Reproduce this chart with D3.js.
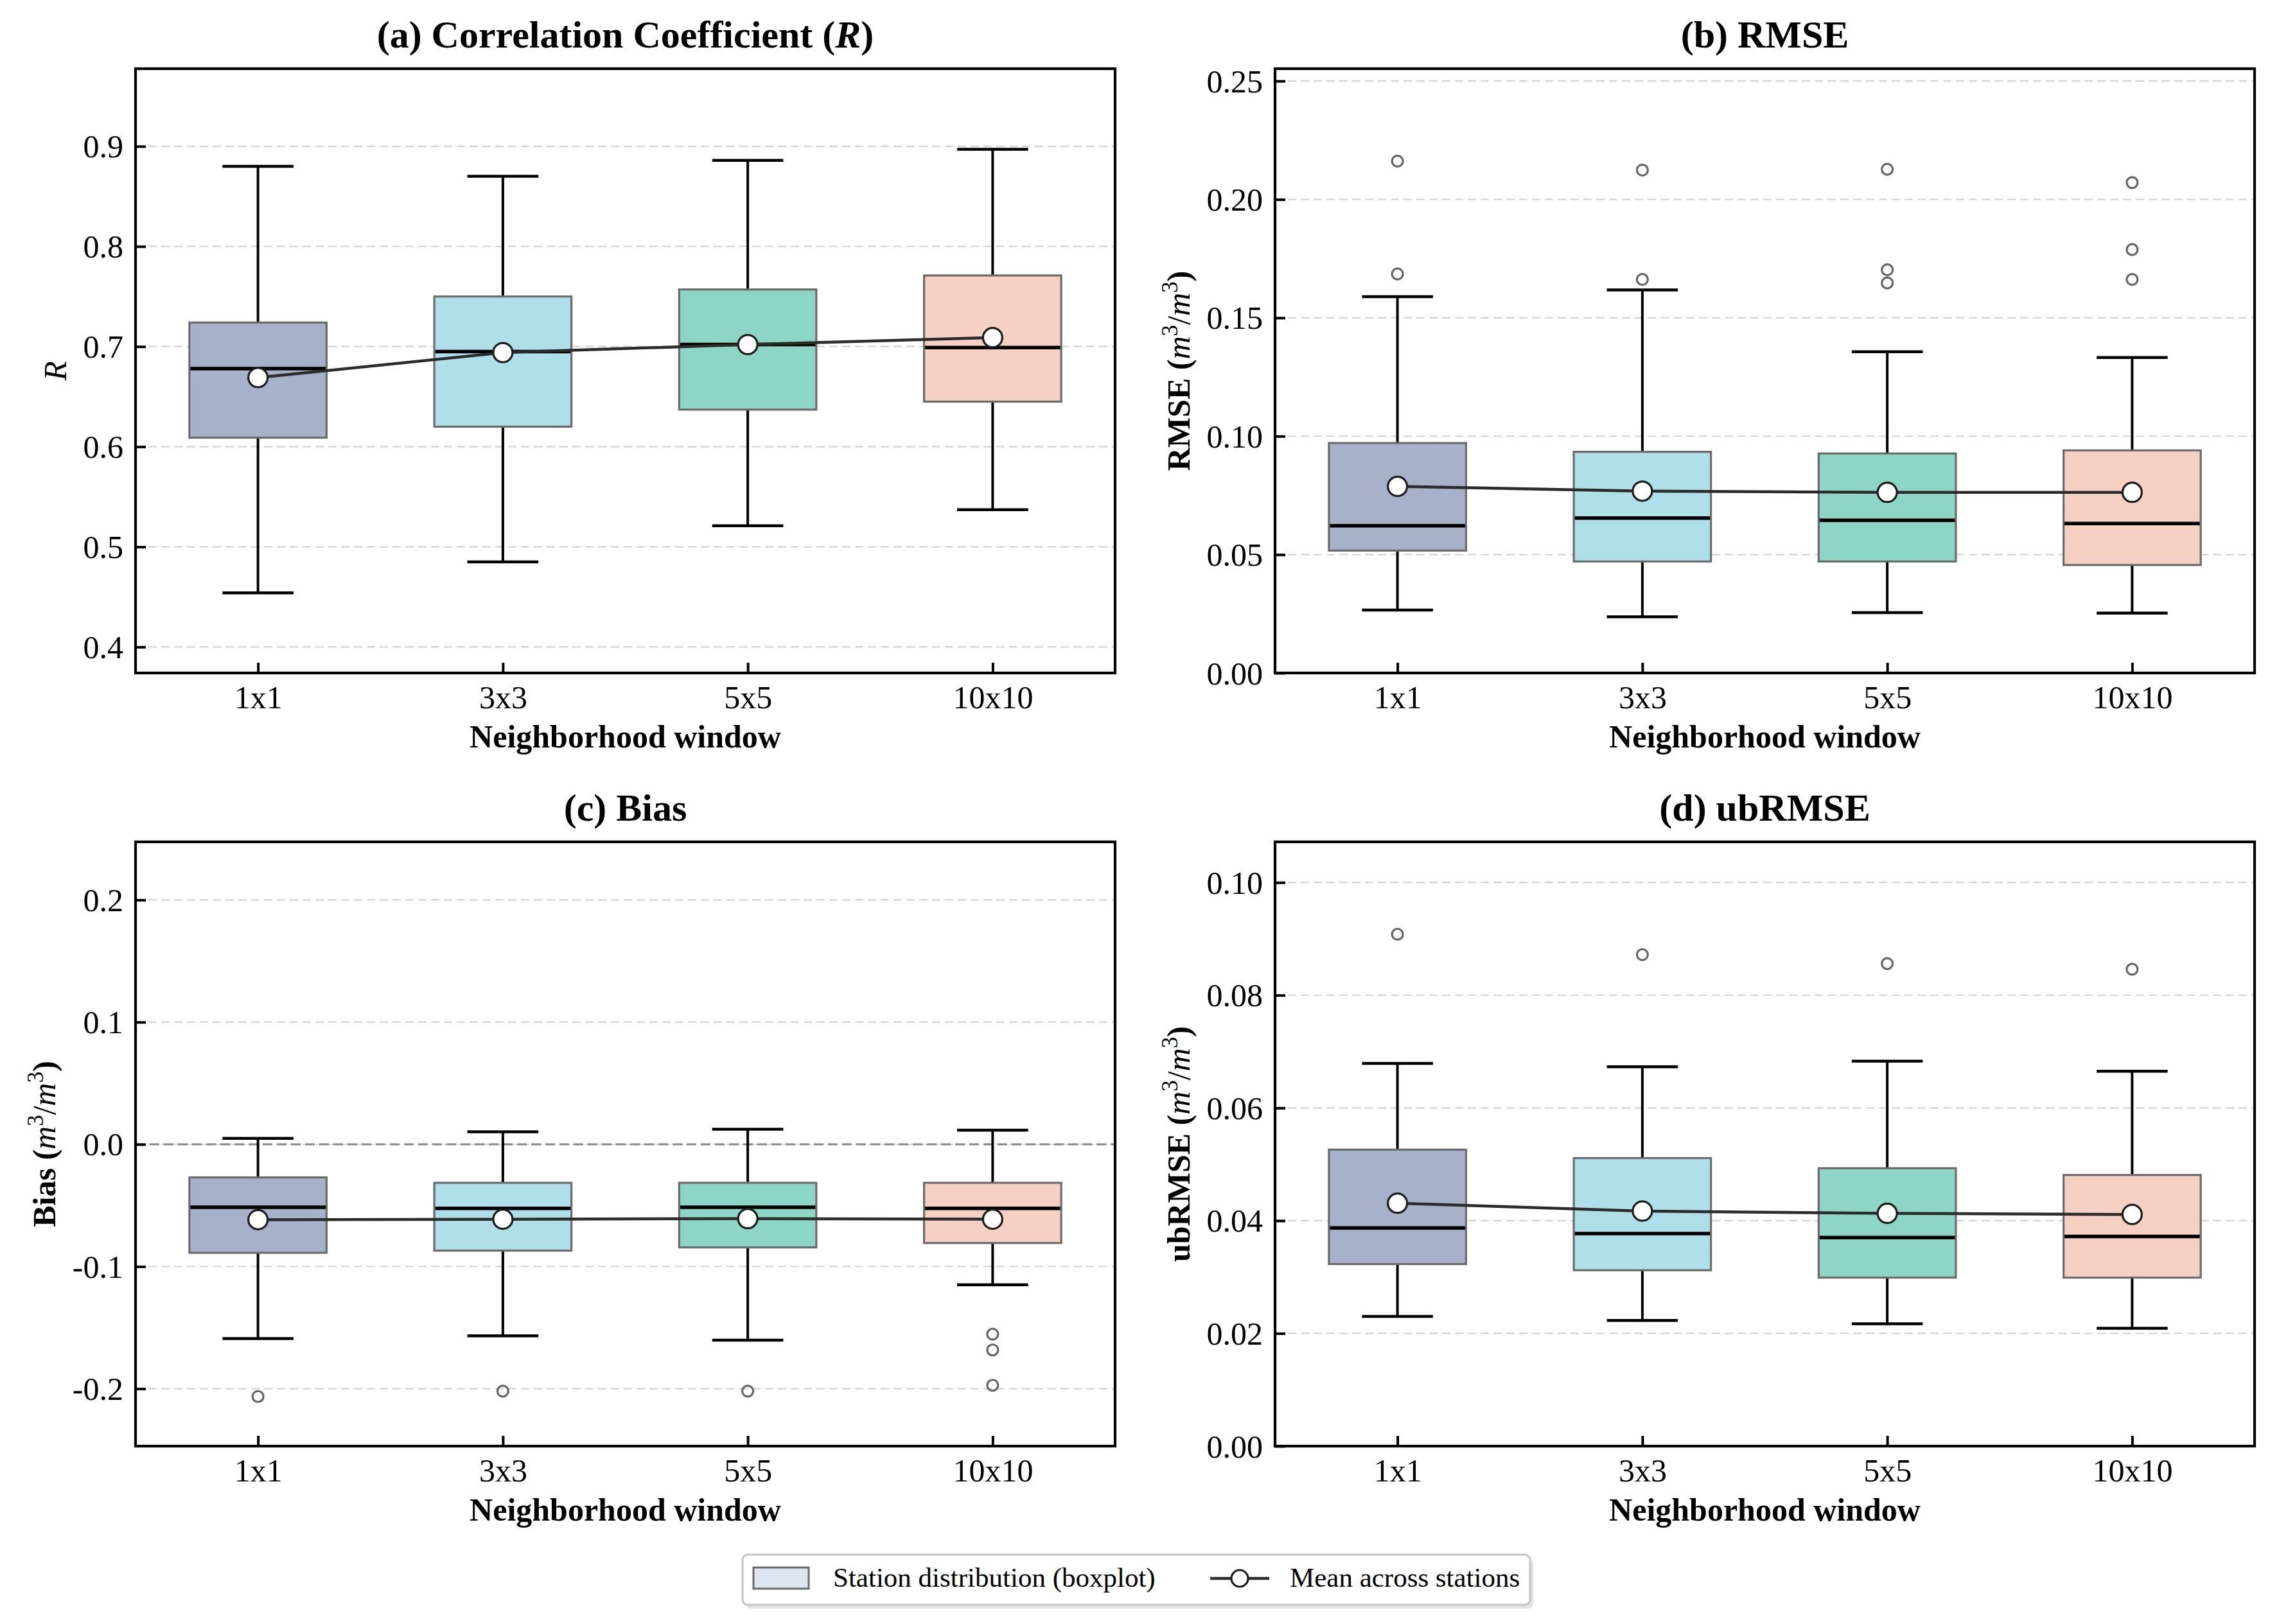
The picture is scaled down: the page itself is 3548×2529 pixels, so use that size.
<!DOCTYPE html>
<html><head><meta charset="utf-8">
<script src="https://cdn.jsdelivr.net/npm/d3@7"></script>
<style>
body{margin:0;background:#fff}
svg{display:block}
text{font-family:"Liberation Serif","Times New Roman",serif;}
</style>
</head><body>
<svg id="chart" width="3548" height="2529"></svg>
<script>
// ---------------- DATA ----------------
const categories = ["1x1", "3x3", "5x5", "10x10"];
const boxColors = ["#a8b1ca", "#afdfe9", "#8dd5c7", "#f7d0c4"];

// (a) Correlation coefficient R
const rWhiskerLow  = [0.454, 0.485, 0.521, 0.537];
const rQ1          = [0.609, 0.620, 0.637, 0.645];
const rMedian      = [0.678, 0.695, 0.702, 0.699];
const rQ3          = [0.724, 0.750, 0.757, 0.771];
const rWhiskerHigh = [0.880, 0.870, 0.886, 0.897];
const rMean        = [0.669, 0.694, 0.702, 0.709];
const rOutliers    = [[], [], [], []];
const rTicks       = [0.4, 0.5, 0.6, 0.7, 0.8, 0.9];
const rDomain      = [0.374, 0.9775];

// (b) RMSE
const rmseWhiskerLow  = [0.0266, 0.0237, 0.0255, 0.0253];
const rmseQ1          = [0.0517, 0.0471, 0.0471, 0.0456];
const rmseMedian      = [0.0622, 0.0654, 0.0645, 0.0631];
const rmseQ3          = [0.0971, 0.0934, 0.0927, 0.0940];
const rmseWhiskerHigh = [0.1589, 0.1618, 0.1357, 0.1332];
const rmseMean        = [0.0788, 0.0768, 0.0763, 0.0763];
const rmseOutliers    = [[0.2162, 0.1685], [0.2124, 0.1662], [0.2127, 0.1703, 0.1647], [0.2071, 0.1788, 0.1662]];
const rmseTicks       = [0.00, 0.05, 0.10, 0.15, 0.20, 0.25];
const rmseDomain      = [0, 0.2552];

// (c) Bias
const biasWhiskerLow  = [-0.159, -0.1567, -0.1603, -0.115];
const biasQ1          = [-0.0888, -0.087, -0.0844, -0.0808];
const biasMedian      = [-0.0515, -0.0524, -0.0515, -0.0524];
const biasQ3          = [-0.0271, -0.0315, -0.0315, -0.0315];
const biasWhiskerHigh = [0.0049, 0.0102, 0.0124, 0.0115];
const biasMean        = [-0.0617, -0.0613, -0.0608, -0.0613];
const biasOutliers    = [[-0.2064], [-0.202], [-0.202], [-0.1554, -0.1683, -0.1972]];
const biasTicks       = [-0.2, -0.1, 0.0, 0.1, 0.2];
const biasDomain      = [-0.247, 0.2475];

// (d) ubRMSE
const ubWhiskerLow  = [0.0230, 0.0223, 0.0217, 0.0209];
const ubQ1          = [0.0323, 0.0312, 0.0299, 0.0299];
const ubMedian      = [0.0387, 0.0377, 0.0370, 0.0372];
const ubQ3          = [0.0526, 0.0511, 0.0493, 0.0481];
const ubWhiskerHigh = [0.0679, 0.0673, 0.0683, 0.0665];
const ubMean        = [0.0431, 0.0417, 0.0413, 0.0411];
const ubOutliers    = [[0.0908], [0.0872], [0.0856], [0.0846]];
const ubTicks       = [0.00, 0.02, 0.04, 0.06, 0.08, 0.10];
const ubDomain      = [0, 0.1072];

const xLabel = "Neighborhood window";
const legendLabels = ["Station distribution (boxplot)", "Mean across stations"];

// ---------------- LAYOUT ----------------
const svg = d3.select("#chart");
svg.append("rect").attr("width", 3548).attr("height", 2529).attr("fill", "#fff");

const W = 1525, H = 941;
const colLeft = [211, 1985];
const rowTop = [107, 1311];

function buildRows(low, q1, med, q3, high, mean, outs) {
  return categories.map((c, i) => ({cat: c, i, low: low[i], q1: q1[i], med: med[i], q3: q3[i], high: high[i], mean: mean[i], outs: outs[i]}));
}

const panels = [
  {left: colLeft[0], top: rowTop[0], rows: buildRows(rWhiskerLow, rQ1, rMedian, rQ3, rWhiskerHigh, rMean, rOutliers),
   ticks: rTicks, domain: rDomain, fmt: d3.format(".1f"),
   title: [{t: "(a) Correlation Coefficient ("}, {t: "R", it: true}, {t: ")"}],
   ylabel: [{t: "R", it: true, nb: true}]},
  {left: colLeft[1], top: rowTop[0], rows: buildRows(rmseWhiskerLow, rmseQ1, rmseMedian, rmseQ3, rmseWhiskerHigh, rmseMean, rmseOutliers),
   ticks: rmseTicks, domain: rmseDomain, fmt: d3.format(".2f"),
   title: [{t: "(b) RMSE"}], ylabel: "RMSE"},
  {left: colLeft[0], top: rowTop[1], rows: buildRows(biasWhiskerLow, biasQ1, biasMedian, biasQ3, biasWhiskerHigh, biasMean, biasOutliers),
   ticks: biasTicks, domain: biasDomain, fmt: v => d3.format(".1f")(v).replace("\u2212", "-"), zeroLine: true,
   title: [{t: "(c) Bias"}], ylabel: "Bias"},
  {left: colLeft[1], top: rowTop[1], rows: buildRows(ubWhiskerLow, ubQ1, ubMedian, ubQ3, ubWhiskerHigh, ubMean, ubOutliers),
   ticks: ubTicks, domain: ubDomain, fmt: d3.format(".2f"),
   title: [{t: "(d) ubRMSE"}], ylabel: "ubRMSE"}
];

function unitParts(name) {
  return [
    {t: name + " ("},
    {t: "m", it: true, nb: true},
    {t: "3", sup: true, nb: true},
    {t: "/", nb: true},
    {t: "m", it: true, nb: true},
    {t: "3", sup: true, nb: true},
    {t: ")"}
  ];
}

function addParts(textSel, parts, size) {
  let shifted = false;
  parts.forEach(p => {
    const ts = textSel.append("tspan").text(p.t);
    if (p.it) ts.attr("font-style", "italic");
    if (p.nb) ts.attr("font-weight", "normal");
    if (p.sup) {
      ts.attr("font-size", size * 0.7).attr("dy", -size * 0.38);
      shifted = true;
    } else if (shifted) {
      ts.attr("dy", size * 0.38);
      shifted = false;
    }
  });
}

panels.forEach(p => {
  const g = svg.append("g");
  const x = d3.scalePoint().domain(categories).range([p.left, p.left + W]).padding(0.5);
  const step = x.step();
  const y = d3.scaleLinear().domain(p.domain).range([p.top + H, p.top]);
  const boxW = step * 0.56, capW = step * 0.29;

  // grid
  g.append("g").selectAll("line").data(p.ticks).join("line")
    .attr("x1", p.left).attr("x2", p.left + W)
    .attr("y1", d => y(d)).attr("y2", d => y(d))
    .attr("stroke", "#d3d3d3").attr("stroke-width", 2.2).attr("stroke-dasharray", "13,7");

  if (p.zeroLine) {
    g.append("line").attr("x1", p.left).attr("x2", p.left + W)
      .attr("y1", y(0)).attr("y2", y(0))
      .attr("stroke", "#858585").attr("stroke-width", 2.8).attr("stroke-dasharray", "15,7");
  }

  const b = g.append("g").selectAll("g").data(p.rows).join("g");
  // whiskers
  b.append("line").attr("x1", d => x(d.cat)).attr("x2", d => x(d.cat))
    .attr("y1", d => y(d.q3)).attr("y2", d => y(d.high)).attr("stroke", "#000").attr("stroke-width", 4);
  b.append("line").attr("x1", d => x(d.cat)).attr("x2", d => x(d.cat))
    .attr("y1", d => y(d.q1)).attr("y2", d => y(d.low)).attr("stroke", "#000").attr("stroke-width", 4);
  // caps
  b.append("line").attr("x1", d => x(d.cat) - capW / 2).attr("x2", d => x(d.cat) + capW / 2)
    .attr("y1", d => y(d.high)).attr("y2", d => y(d.high)).attr("stroke", "#000").attr("stroke-width", 4.5);
  b.append("line").attr("x1", d => x(d.cat) - capW / 2).attr("x2", d => x(d.cat) + capW / 2)
    .attr("y1", d => y(d.low)).attr("y2", d => y(d.low)).attr("stroke", "#000").attr("stroke-width", 4.5);
  // box
  b.append("rect").attr("x", d => x(d.cat) - boxW / 2).attr("width", boxW)
    .attr("y", d => y(d.q3)).attr("height", d => y(d.q1) - y(d.q3))
    .attr("fill", d => boxColors[d.i]).attr("stroke", "#6b6b6b").attr("stroke-width", 3.2);
  // median
  b.append("line").attr("x1", d => x(d.cat) - boxW / 2 + 1.5).attr("x2", d => x(d.cat) + boxW / 2 - 1.5)
    .attr("y1", d => y(d.med)).attr("y2", d => y(d.med)).attr("stroke", "#000").attr("stroke-width", 5.5);
  // outliers
  b.selectAll("circle.out").data(d => d.outs.map(v => ({cat: d.cat, v}))).join("circle")
    .attr("class", "out").attr("cx", d => x(d.cat)).attr("cy", d => y(d.v)).attr("r", 8.5)
    .attr("fill", "none").attr("stroke", "#666").attr("stroke-width", 3.2);

  // mean line + markers
  g.append("path").datum(p.rows)
    .attr("d", d3.line().x(d => x(d.cat)).y(d => y(d.mean)))
    .attr("fill", "none").attr("stroke", "#2b2b2b").attr("stroke-width", 4.5);
  g.append("g").selectAll("circle").data(p.rows).join("circle")
    .attr("cx", d => x(d.cat)).attr("cy", d => y(d.mean)).attr("r", 15)
    .attr("fill", "#fff").attr("stroke", "#1c1c1c").attr("stroke-width", 3.2);

  // axes
  const ya = g.append("g").attr("transform", `translate(${p.left},0)`)
    .call(d3.axisLeft(y).tickValues(p.ticks).tickFormat(p.fmt).tickSizeInner(-16).tickSizeOuter(0).tickPadding(19));
  ya.select(".domain").remove();
  ya.selectAll(".tick line").attr("stroke", "#000").attr("stroke-width", 4);
  ya.selectAll(".tick text").attr("font-size", 50).attr("font-family", "Liberation Serif, Times New Roman, serif").attr("fill", "#000").attr("dy", "0.34em");
  ya.attr("font-size", null).attr("font-family", null);

  const xa = g.append("g").attr("transform", `translate(0,${p.top + H})`)
    .call(d3.axisBottom(x).tickSizeInner(-16).tickSizeOuter(0).tickPadding(19));
  xa.select(".domain").remove();
  xa.selectAll(".tick line").attr("stroke", "#000").attr("stroke-width", 4);
  xa.selectAll(".tick text").attr("font-size", 50).attr("font-family", "Liberation Serif, Times New Roman, serif").attr("fill", "#000");
  xa.attr("font-size", null).attr("font-family", null);

  // frame
  g.append("rect").attr("x", p.left).attr("y", p.top).attr("width", W).attr("height", H)
    .attr("fill", "none").attr("stroke", "#000").attr("stroke-width", 4.2);

  // title
  const tt = g.append("text").attr("x", p.left + W / 2).attr("y", p.top - 33)
    .attr("text-anchor", "middle").attr("font-size", 60).attr("font-weight", "bold");
  addParts(tt, p.title, 60);

  // x label
  g.append("text").attr("x", p.left + W / 2).attr("y", p.top + H + 116)
    .attr("text-anchor", "middle").attr("font-size", 50).attr("font-weight", "bold").text(xLabel);

  // y label
  let minX = Infinity;
  ya.selectAll(".tick text").each(function () {
    const bb = this.getBBox();
    const m = this.parentNode.transform.baseVal.consolidate();
    const tx = (m ? m.matrix.e : 0) + p.left + bb.x;
    minX = Math.min(minX, tx);
  });
  const lx = minX - 27;
  const yl = g.append("text").attr("transform", `translate(${lx},${p.top + H / 2}) rotate(-90)`)
    .attr("text-anchor", "middle").attr("font-size", 50).attr("font-weight", "bold");
  addParts(yl, typeof p.ylabel === "string" ? unitParts(p.ylabel) : p.ylabel, 50);
});

// ---------------- LEGEND ----------------
const lg = svg.append("g");
lg.append("rect").attr("x", 1158).attr("y", 2424).attr("width", 1226).attr("height", 78).attr("rx", 8)
  .attr("fill", "#d0d0d0").attr("opacity", 0.6).attr("transform", "translate(3,3)");
lg.append("rect").attr("x", 1156).attr("y", 2421).attr("width", 1226).attr("height", 78).attr("rx", 8)
  .attr("fill", "#fff").attr("stroke", "#c4c4c4").attr("stroke-width", 3);
lg.append("rect").attr("x", 1173).attr("y", 2441).attr("width", 86).attr("height", 33)
  .attr("fill", "#dde5f1").attr("stroke", "#6b6b6b").attr("stroke-width", 3);
lg.append("text").attr("x", 1297).attr("y", 2471).attr("font-size", 43).text(legendLabels[0]);
lg.append("line").attr("x1", 1884).attr("x2", 1976).attr("y1", 2458).attr("y2", 2458)
  .attr("stroke", "#2b2b2b").attr("stroke-width", 4.5);
lg.append("circle").attr("cx", 1930).attr("cy", 2458).attr("r", 13)
  .attr("fill", "#fff").attr("stroke", "#1c1c1c").attr("stroke-width", 3.2);
lg.append("text").attr("x", 2008).attr("y", 2471).attr("font-size", 43).text(legendLabels[1]);
</script>
</body></html>
